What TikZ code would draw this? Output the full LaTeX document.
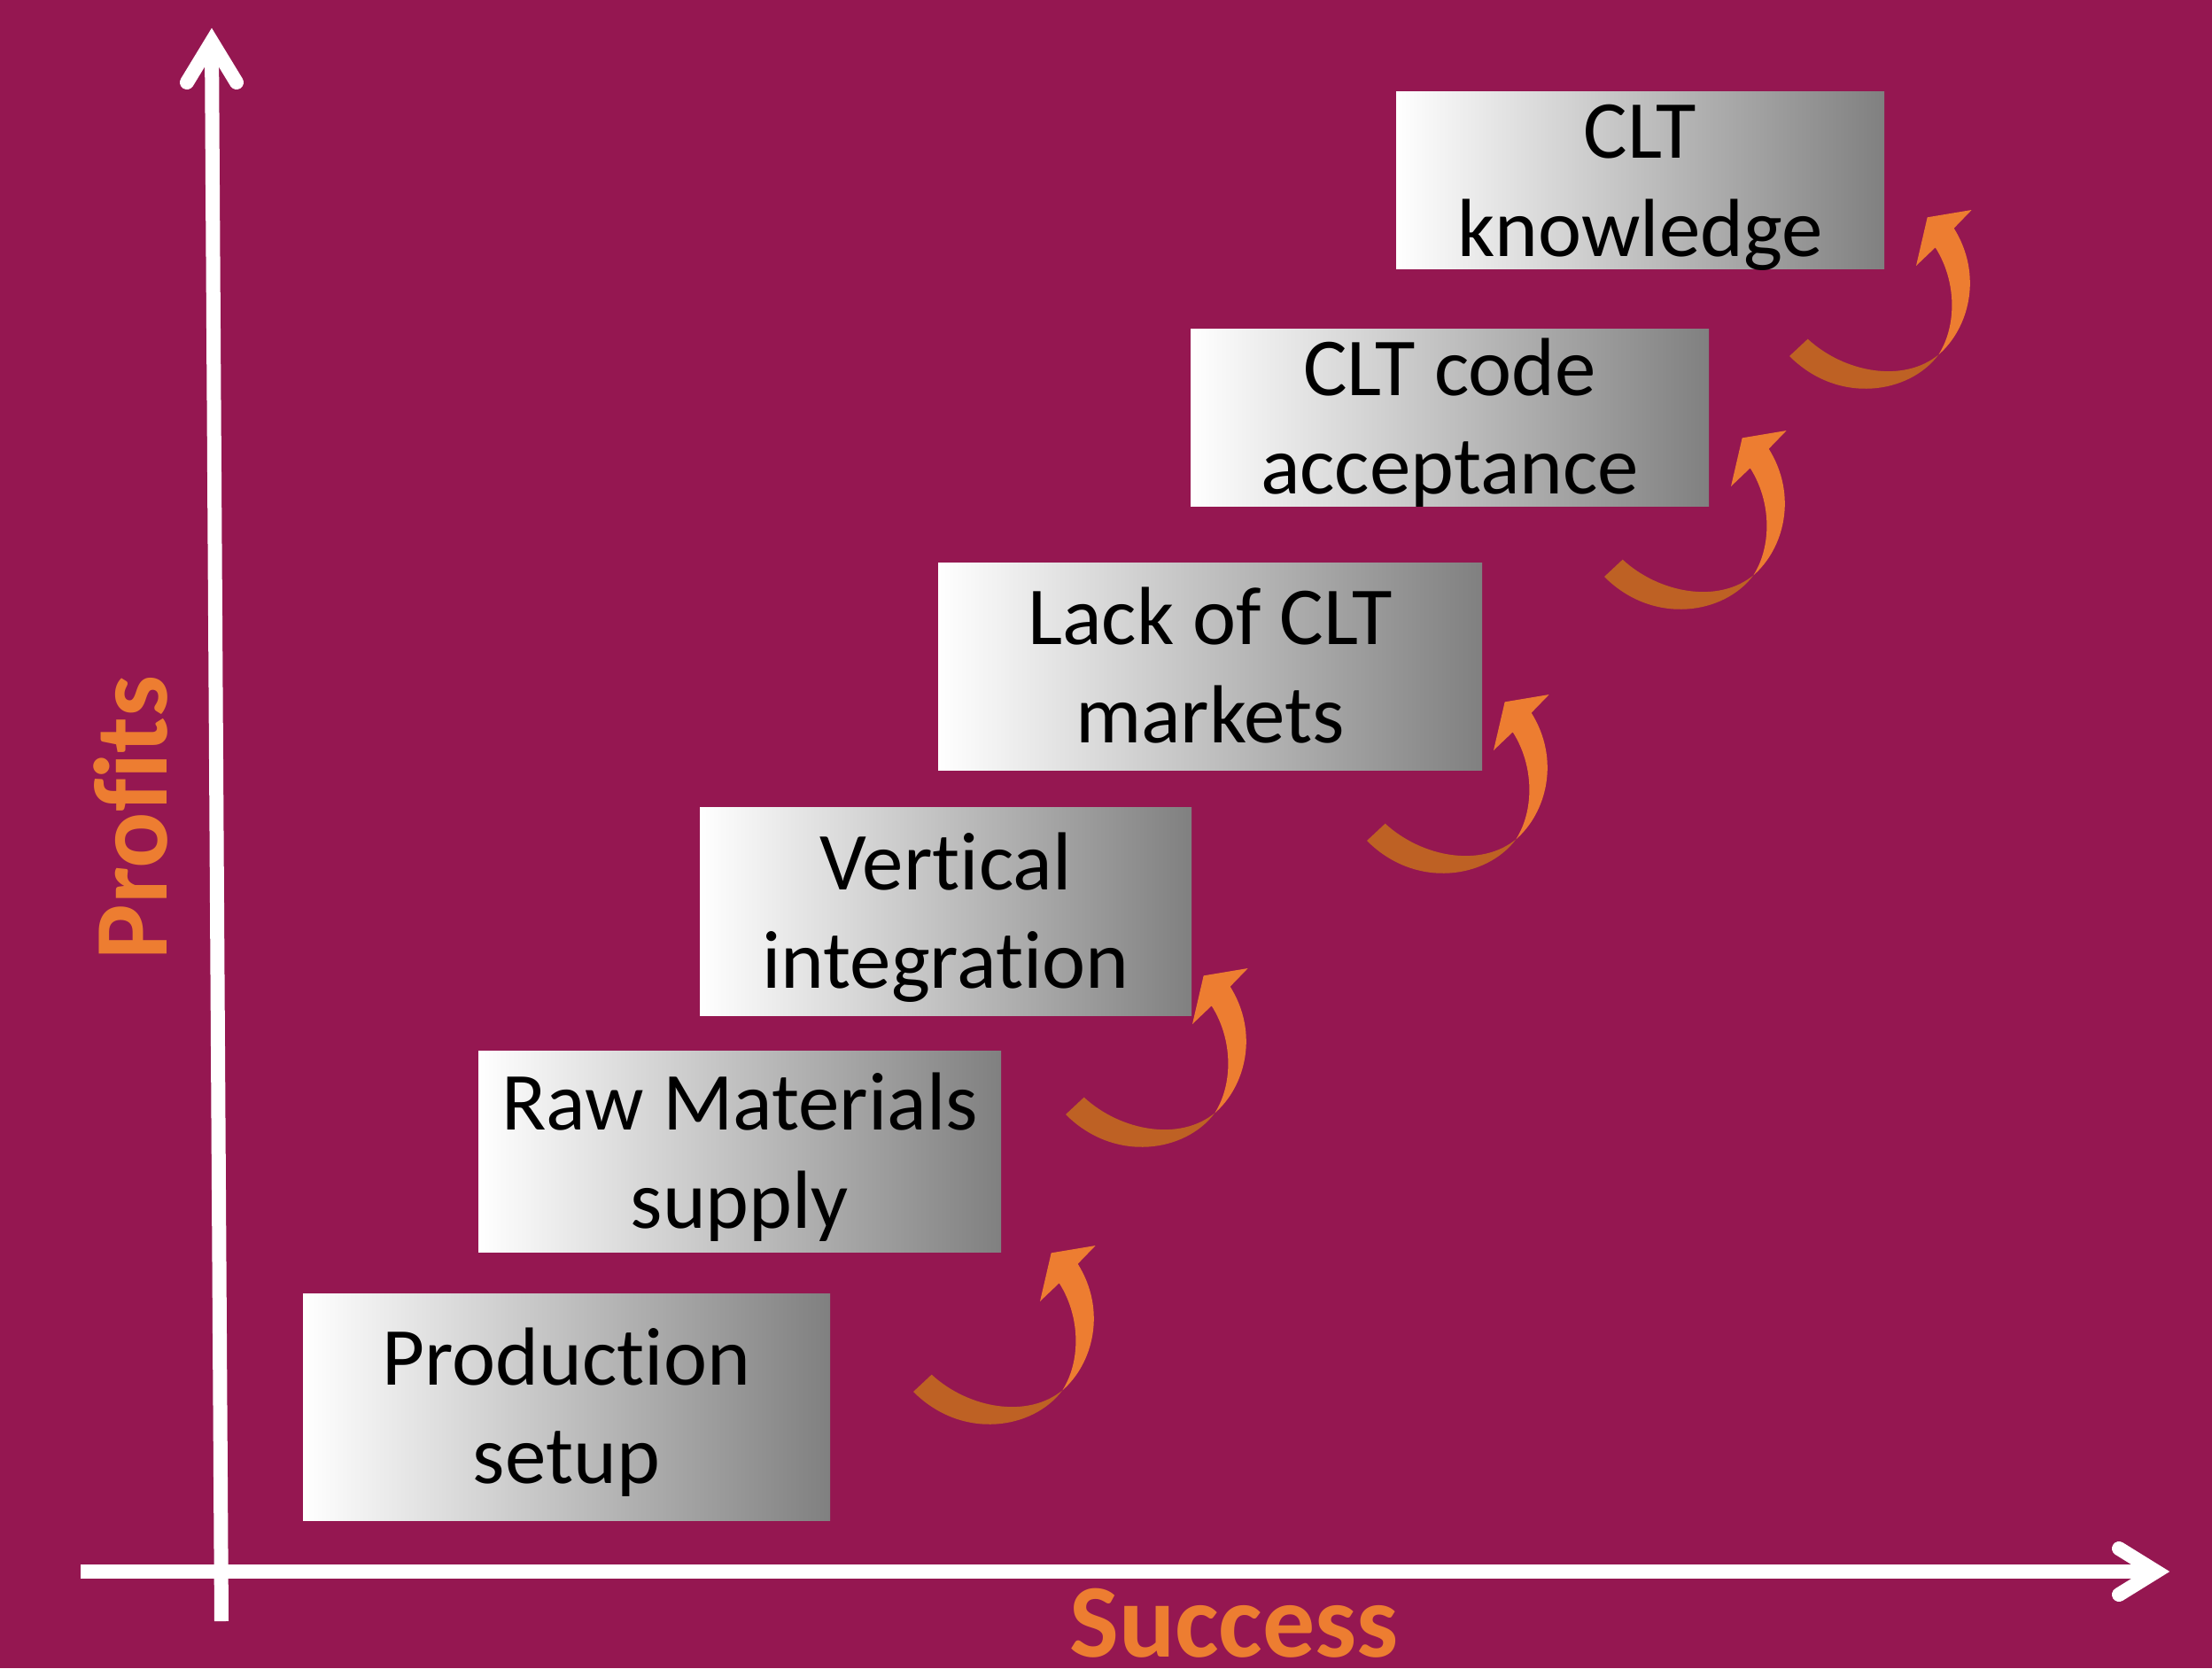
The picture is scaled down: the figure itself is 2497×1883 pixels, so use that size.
\documentclass[tikz,border=0pt]{standalone}
\usepackage{fontspec}
\setmainfont{Carlito}[Ligatures=CommonOff]
\newfontfamily\labelfont[Ligatures=CommonOff]{Carlito}
\definecolor{bg}{HTML}{951751}
\definecolor{orng}{HTML}{ED7D31}
\definecolor{orngdark}{HTML}{BE6124}
\definecolor{gray50}{HTML}{808080}
\tikzset{
  stepbox/.style={rectangle, inner sep=0pt, draw=none, left color=white, right color=gray50},
  boxtext/.style={font=\fontsize{93}{111}\selectfont, align=center, inner sep=0pt, text=black},
  axislabel/.style={font=\labelfont\bfseries\fontsize{118}{140}\selectfont, text=orng, inner sep=0pt},
  axisline/.style={draw=white, line width=16pt},
  axishead/.style={draw=white, line width=16pt, line cap=round, line join=miter}
}
\newcommand{\topstrut}{\rule{0pt}{90pt}}
\newcommand{\botstrut}{\rule[-28pt]{0pt}{28pt}}
\newcommand{\nolig}{\kern0pt\relax}
\begin{document}
\begin{tikzpicture}[x=1pt,y=-1pt]
\useasboundingbox (0,0) rectangle (2497,1883);
\fill[bg] (0,0) rectangle (2497,1883);

% axes
\coordinate (ybot) at (250,1830);
\coordinate (ytop) at (239,47);
\coordinate (yl) at (211,93);
\coordinate (yr) at (267,93);
\coordinate (xleft) at (91,1774);
\coordinate (xright) at (2434,1774);
\coordinate (xu) at (2392,1748);
\coordinate (xd) at (2392,1800);
\draw[axisline] (ybot) -- (ytop);
\draw[axishead] (yl) -- (ytop) -- (yr);
\draw[axisline] (xleft) -- (xright);
\draw[axishead] (xu) -- (xright) -- (xd);

% boxes
\node[stepbox, minimum width=595pt, minimum height=256pt] (b1) at (639.5,1588) {};
\node[stepbox, minimum width=590pt, minimum height=227pt] (b2) at (835,1299.5) {};
\node[stepbox, minimum width=555pt, minimum height=235pt] (b3) at (1067.5,1028.5) {};
\node[stepbox, minimum width=614pt, minimum height=234pt] (b4) at (1366,752) {};
\node[stepbox, minimum width=585pt, minimum height=200pt] (b5) at (1636.5,471) {};
\node[stepbox, minimum width=551pt, minimum height=200pt] (b6) at (1851.5,203) {};

\node[boxtext] (t1) at (b1.center) {\topstrut Product\nolig ion\\setup\botstrut};
\node[boxtext] (t2) at (b2.center) {\topstrut Raw Materials\\supply\botstrut};
\node[boxtext] (t3) at (b3.center) {\topstrut Vertical\\integrat\nolig ion\botstrut};
\node[boxtext] (t4) at (b4.center) {\topstrut Lack of CLT\\markets\botstrut};
\node[boxtext] (t5) at (b5.center) {\topstrut CLT code\\acceptance\botstrut};
\node[boxtext] (t6) at (b6.center) {\topstrut CLT\\knowledge\botstrut};

% curved arrows
\foreach \sx/\sy in {1000/1380, 1172/1067, 1512/758, 1780/460, 1989/211} {
  \begin{scope}[shift={(\sx,\sy)}, scale=1/3]
    \fill[orngdark] (93,573) -- (155,515) .. controls (280,630) and (480,665) .. (598,568)
      .. controls (500,700) and (260,740) .. (93,573) -- cycle;
    \fill[orng] (598,568) .. controls (700,480) and (750,300) .. (650,140) -- (710,78)
      -- (560,103) -- (522,267) -- (587,205) .. controls (660,320) and (660,470) .. (598,568) -- cycle;
  \end{scope}
}

% axis labels
\node[axislabel, anchor=base, rotate=90] (profits) at (188,923) {Profits};
\node[axislabel, anchor=base] (success) at (1393,1870) {Success};
\end{tikzpicture}
\end{document}
